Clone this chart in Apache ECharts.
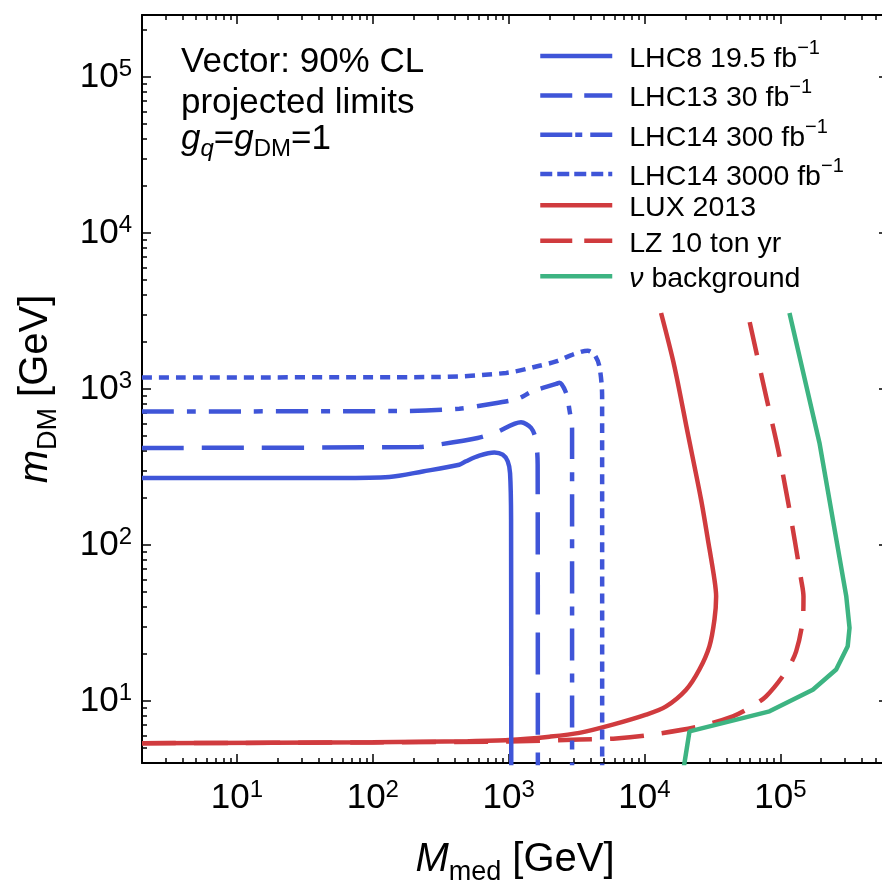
<!DOCTYPE html>
<html>
<head>
<meta charset="utf-8">
<title>Vector: 90% CL projected limits</title>
<script src="https://cdn.jsdelivr.net/npm/echarts@6/dist/echarts.min.js"></script>
<style>
html, body { margin: 0; padding: 0; background: #fff; }
#main { width: 882px; height: 880px; }
</style>
</head>
<body>
<div id="main"></div>
<script>
// axis ranges
var xMin = 2, xMax = 6.2e5;
var yMin = 4, yMax = 2.5e5;
var xMajor = [10, 100, 1000, 10000, 100000];
var yMajor = [10, 100, 1000, 10000, 100000];
var decades = [1, 10, 100, 1000, 10000, 100000];

// LHC curves (M_med, m_DM) in GeV
var lhc8X = [2, 57, 132, 233, 433, 485, 608, 785, 904, 984, 1024, 1042, 1045];
var lhc8Y = [269, 269, 273, 296, 327, 344, 374, 392, 379, 344, 289, 145, 3.5];
var lhc13X = [2, 220, 300, 591, 807, 1233, 1462, 1585, 1635, 1640];
var lhc13Y = [419, 425, 439, 485, 527, 611, 563, 473, 327, 3.5];
var lhc14aX = [2, 150, 433, 682, 1159, 1494, 2234, 2366, 2650, 2800, 2930, 2930];
var lhc14aY = [718, 722, 748, 793, 863, 966, 1077, 1097, 942, 736, 550, 3.5];
var lhc14bX = [2, 292, 957, 1683, 2234, 2958, 3819, 4279, 4656, 4876, 4880];
var lhc14bY = [1186, 1193, 1268, 1409, 1503, 1660, 1761, 1660, 1396, 898, 3.5];

// direct detection
var luxX = [2, 100, 500, 1000, 2000, 3315, 5836, 10280, 14420, 20240, 25350, 30040, 32730, 33670, 32730, 29300, 26100, 20800, 16600, 13240];
var luxY = [5.36, 5.44, 5.52, 5.61, 5.9, 6.24, 7.05, 8.17, 9.23, 11.8, 15.9, 22.4, 33.2, 46.8, 60, 108, 195, 522, 1396, 3069];
var lzX = [2, 100, 1000, 3315, 6180, 10870, 25350, 44700, 59100, 78500, 110400, 130700, 146200, 148000, 142200, 127400, 113200, 95700, 78500, 57500];
var lzY = [5.36, 5.42, 5.5, 5.65, 5.75, 6.05, 6.87, 7.97, 9.02, 10.7, 15.5, 20.8, 33.2, 46.8, 60, 108, 195, 419, 898, 3069];
var nuX = [19500, 21440, 83200, 173400, 257600, 313200, 323000, 305700, 194100, 116700];
var nuY = [3.8, 6.38, 8.58, 11.8, 15.9, 22.4, 29.4, 46.8, 451, 3069];

var lhcNames = ['LHC8 19.5 fb-1', 'LHC13 30 fb-1', 'LHC14 300 fb-1', 'LHC14 3000 fb-1'];
var ddNames = ['LUX 2013', 'LZ 10 ton yr', 'nu background'];
var legendText = {
    'LHC8 19.5 fb-1': '{p| }{n|LHC8 19.5 fb}{sup|\u22121}',
    'LHC13 30 fb-1': '{p| }{n|LHC13 30 fb}{sup|\u22121}',
    'LHC14 300 fb-1': '{p| }{n|LHC14 300 fb}{sup|\u22121}',
    'LHC14 3000 fb-1': '{p| }{n|LHC14 3000 fb}{sup|\u22121}',
    'LUX 2013': '{p| }{n|LUX 2013}',
    'LZ 10 ton yr': '{p| }{n|LZ 10 ton yr}',
    'nu background': '{p| }{nu|\u03bd}{n| background}'
};
// dash patterns of the legend samples (shorter than in the plot)
var legendDash = {
    'LHC8 19.5 fb-1': 'solid',
    'LHC13 30 fb-1': [32, 12],
    'LHC14 300 fb-1': [32, 3, 7, 8],
    'LHC14 3000 fb-1': [12, 5],
    'LUX 2013': 'solid',
    'LZ 10 ton yr': [32, 12],
    'nu background': 'solid'
};

var FONT = '"Liberation Sans", Arial, Helvetica, sans-serif';
var BLUE = '#3f55d8', RED = '#d03b3e', GREEN = '#3db482';

function pairs(xs, ys) {
    var out = [];
    for (var i = 0; i < xs.length; i++) {
        out.push([xs[i], ys[i]]);
    }
    return out;
}

function minorTicks(lo, hi) {
    var out = [];
    for (var d = 0; d < decades.length; d++) {
        for (var k = 2; k <= 9; k++) {
            var v = decades[d] * k;
            if (v >= lo && v <= hi) out.push(v);
        }
    }
    return out;
}

function powLabel(v) {
    var e = Math.round(Math.log(v) / Math.LN10);
    return '{b|10}{s|' + e + '}';
}

var tickRich = {
    b: { fontFamily: FONT, fontSize: 35, lineHeight: 40, color: '#000' },
    s: { fontFamily: FONT, fontSize: 24, verticalAlign: 'top', lineHeight: 40, color: '#000' }
};

function makeAxis(kind, pos, ticks, len, main) {
    var lo = kind == 'x' ? xMin : yMin;
    var hi = kind == 'x' ? xMax : yMax;
    var labelled = main && (pos == 'bottom' || pos == 'left');
    return {
        type: 'log',
        logBase: 10,
        min: lo,
        max: hi,
        position: pos,
        axisLine: { show: main, onZero: false, lineStyle: { color: '#000', width: 2 } },
        axisTick: { show: true, inside: true, length: len, customValues: ticks, lineStyle: { color: '#000', width: 1.5 } },
        axisLabel: {
            show: labelled,
            customValues: kind == 'x' ? xMajor : yMajor,
            formatter: powLabel,
            margin: kind == 'x' ? 15 : 10,
            rich: tickRich
        },
        splitLine: { show: false },
        minorTick: { show: false },
        minorSplitLine: { show: false }
    };
}

function makeSeries(name, xs, ys, color, dash, smooth) {
    return {
        name: name,
        type: 'line',
        data: pairs(xs, ys),
        showSymbol: false,
        symbol: 'none',
        smooth: smooth,
        clip: true,
        silent: true,
        lineStyle: { color: color, width: 4.5, type: dash, cap: 'butt' },
        itemStyle: { color: color }
    };
}

function makeLegend(names, top, rowH, gap) {
    var items = [];
    for (var i = 0; i < names.length; i++) {
        items.push({ name: names[i], lineStyle: { type: legendDash[names[i]], width: 4.5 } });
    }
    return {
        orient: 'vertical',
        left: 538,
        top: top,
        padding: 0,
        itemWidth: 72,
        itemHeight: rowH,
        itemGap: gap,
        selectedMode: false,
        data: items,
        formatter: function (name) { return legendText[name]; },
        itemStyle: { opacity: 0 },
        lineStyle: { width: 4.5 },
        textStyle: {
            fontFamily: FONT,
            fontSize: 28.5,
            color: '#000',
            rich: {
                p: { width: 12, fontSize: 28.5 },
                n: { fontFamily: FONT, fontSize: 28.5, padding: [6, 0, 0, 0], color: '#000' },
                sup: { fontFamily: FONT, fontSize: 20, verticalAlign: 'top', color: '#000' },
                nu: { fontFamily: FONT, fontSize: 28.5, fontStyle: 'italic', padding: [6, 0, 0, 0], color: '#000' }
            }
        }
    };
}

var xAxes = [
    makeAxis('x', 'bottom', xMajor, 9, true),
    makeAxis('x', 'bottom', minorTicks(xMin, xMax), 5, false),
    makeAxis('x', 'top', xMajor, 9, true),
    makeAxis('x', 'top', minorTicks(xMin, xMax), 5, false)
];
var yAxes = [
    makeAxis('y', 'left', yMajor, 9, true),
    makeAxis('y', 'left', minorTicks(yMin, yMax), 5, false),
    makeAxis('y', 'right', yMajor, 9, true),
    makeAxis('y', 'right', minorTicks(yMin, yMax), 5, false)
];

var nameStyle = {
    rich: {
        i: { fontFamily: FONT, fontSize: 40, fontStyle: 'italic', lineHeight: 52, color: '#000' },
        sub: { fontFamily: FONT, fontSize: 27, verticalAlign: 'bottom', lineHeight: 52, color: '#000' },
        n: { fontFamily: FONT, fontSize: 40, lineHeight: 52, color: '#000' }
    }
};

xAxes[0].name = '{i|M}{sub|med}{n| [GeV]}';
xAxes[0].nameLocation = 'middle';
xAxes[0].nameGap = 71;
xAxes[0].nameMoveOverlap = false;
xAxes[0].nameTextStyle = nameStyle;

yAxes[0].name = '{i|m}{sub|DM}{n| [GeV]}';
yAxes[0].nameLocation = 'middle';
yAxes[0].nameRotate = 90;
yAxes[0].nameGap = 80;
yAxes[0].nameMoveOverlap = false;
yAxes[0].nameTextStyle = nameStyle;

var series = [
    makeSeries('LUX 2013', luxX, luxY, RED, 'solid', 0.3),
    makeSeries('LZ 10 ton yr', lzX, lzY, RED, [34, 18], 0.3),
    makeSeries('nu background', nuX, nuY, GREEN, 'solid', false),
    makeSeries('LHC8 19.5 fb-1', lhc8X, lhc8Y, BLUE, 'solid', 0.3),
    makeSeries('LHC13 30 fb-1', lhc13X, lhc13Y, BLUE, [42, 18], 0.3),
    makeSeries('LHC14 300 fb-1', lhc14aX, lhc14aY, BLUE, [32, 13, 9, 13], 0.3),
    makeSeries('LHC14 3000 fb-1', lhc14bX, lhc14bY, BLUE, [10, 7], 0.3)
];

var chart = echarts.init(document.getElementById('main'), null, { renderer: 'canvas' });
chart.setOption({
    animation: false,
    backgroundColor: '#fff',
    grid: { left: 142, top: 15, width: 746, height: 748, containLabel: false, outerBoundsMode: 'none' },
    xAxis: xAxes,
    yAxis: yAxes,
    legend: [
        makeLegend(lhcNames, 38.6, 40, 4.3),
        makeLegend(ddNames, 190.8, 35, 3.5)
    ],
    graphic: [
        { type: 'text', left: 181, top: 45, style: { text: 'Vector: 90% CL', font: '35px ' + FONT, fill: '#000' } },
        { type: 'text', left: 181, top: 86, style: { text: 'projected limits', font: '35px ' + FONT, fill: '#000' } },
        {
            type: 'text', left: 181, top: 122,
            style: {
                text: '{i|g}{iq|q}{n|=}{i|g}{sub|DM}{n|=1}',
                fill: '#000',
                rich: {
                    i: { fontFamily: FONT, fontSize: 35, fontStyle: 'italic', lineHeight: 44 },
                    iq: { fontFamily: FONT, fontSize: 24, fontStyle: 'italic', verticalAlign: 'bottom', lineHeight: 44 },
                    sub: { fontFamily: FONT, fontSize: 24, verticalAlign: 'bottom', lineHeight: 44 },
                    n: { fontFamily: FONT, fontSize: 35, lineHeight: 44 }
                }
            }
        }
    ],
    series: series
});
</script>
</body>
</html>
